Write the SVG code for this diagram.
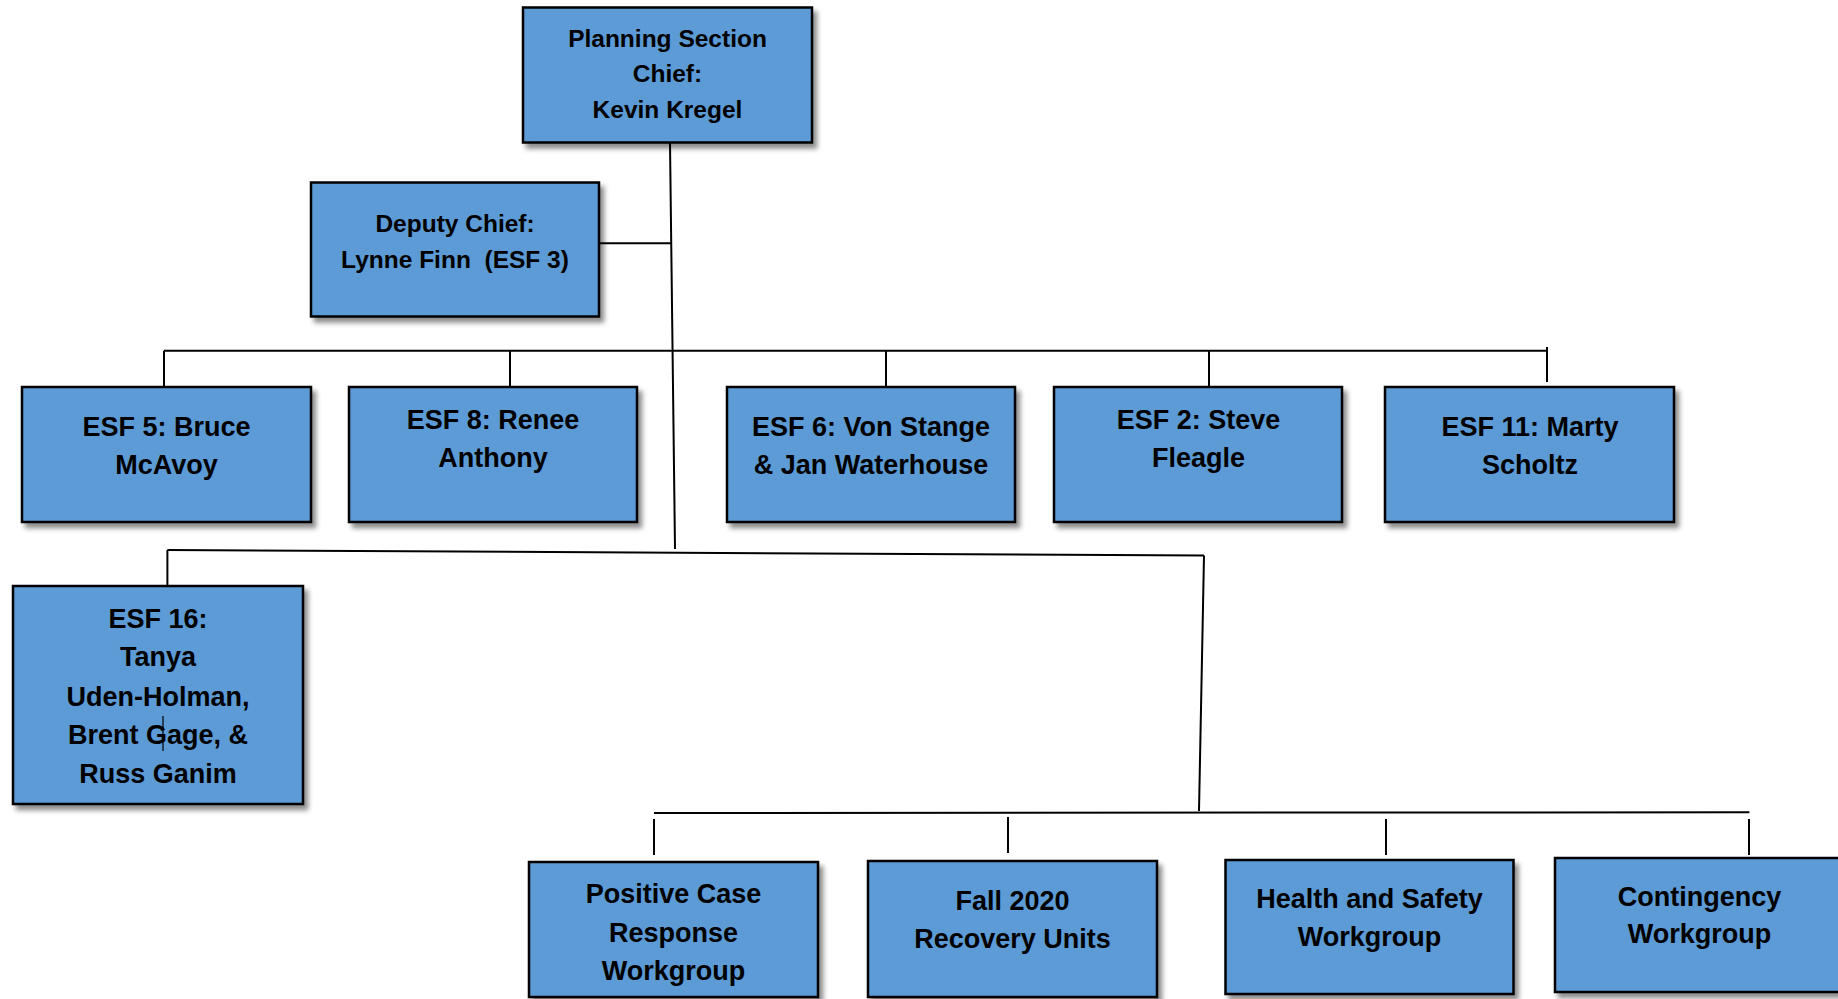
<svg xmlns="http://www.w3.org/2000/svg" width="1838" height="999" viewBox="0 0 1838 999">
<defs>
<filter id="sh" x="-10%" y="-10%" width="130%" height="130%">
<feDropShadow dx="4" dy="5" stdDeviation="2.5" flood-color="#000" flood-opacity="0.45"/>
</filter>
</defs>
<style>
.box{fill:#5B9BD5;stroke:#000;stroke-width:2.5;filter:url(#sh)}
.t{font-family:"Liberation Sans",Arial,sans-serif;font-weight:bold;font-size:27px;fill:#000;text-anchor:middle}
.s{font-size:24.5px}
.c line{stroke:#000;stroke-width:2}
</style>
<rect width="1838" height="999" fill="#fff"/>
<g class="c" id="connectors">
<line x1="670" y1="143" x2="675" y2="549"/>
<line x1="599" y1="243.3" x2="671.5" y2="243.3"/>
<line x1="164" y1="350.7" x2="1547" y2="350.7"/>
<line x1="164" y1="350.7" x2="164" y2="387"/>
<line x1="510" y1="350.7" x2="510" y2="387"/>
<line x1="886" y1="350.7" x2="886" y2="387"/>
<line x1="1209" y1="350.7" x2="1209" y2="387"/>
<line x1="1547" y1="347" x2="1547" y2="382"/>
<line x1="167.4" y1="550" x2="1204" y2="555.6"/>
<line x1="167.4" y1="550" x2="167.4" y2="586"/>
<line x1="1204" y1="555.6" x2="1199" y2="811"/>
<line x1="654" y1="813" x2="1749.4" y2="812.3"/>
<line x1="654" y1="819" x2="654" y2="855"/>
<line x1="1008" y1="817" x2="1008" y2="853"/>
<line x1="1386" y1="819" x2="1386" y2="855"/>
<line x1="1749" y1="819" x2="1749" y2="855"/>
</g>
<g id="planning">
<rect class="box" x="523" y="7.5" width="289" height="135"/>
<text class="t s" x="667.5" y="46.7">Planning Section</text>
<text class="t s" x="667.5" y="81.7">Chief:</text>
<text class="t s" x="667.5" y="118.3">Kevin Kregel</text>
</g>
<g id="deputy">
<rect class="box" x="311" y="182.5" width="288" height="134"/>
<text class="t s" x="455" y="231.7">Deputy Chief:</text>
<text class="t s" x="455" y="268.3" style="white-space:pre" xml:space="preserve">Lynne Finn  (ESF 3)</text>
</g>
<g id="esf5">
<rect class="box" x="22" y="387" width="289" height="135"/>
<text class="t" x="166.5" y="436">ESF 5: Bruce</text>
<text class="t" x="166.5" y="474">McAvoy</text>
</g>
<g id="esf8">
<rect class="box" x="349" y="387" width="288" height="135"/>
<text class="t" x="493" y="429">ESF 8: Renee</text>
<text class="t" x="493" y="466.7">Anthony</text>
</g>
<g id="esf6">
<rect class="box" x="727" y="387" width="288" height="135"/>
<text class="t" x="871" y="436">ESF 6: Von Stange</text>
<text class="t" x="871" y="474">&amp; Jan Waterhouse</text>
</g>
<g id="esf2">
<rect class="box" x="1054" y="387" width="288" height="135"/>
<text class="t" x="1198.5" y="429">ESF 2: Steve</text>
<text class="t" x="1198.5" y="466.7">Fleagle</text>
</g>
<g id="esf11">
<rect class="box" x="1385" y="387" width="289" height="135"/>
<text class="t" x="1530" y="436">ESF 11: Marty</text>
<text class="t" x="1530" y="474">Scholtz</text>
</g>
<g id="esf16">
<rect class="box" x="13" y="586" width="290" height="218"/>
<text class="t" x="158" y="628.3">ESF 16:</text>
<text class="t" x="158" y="666">Tanya</text>
<text class="t" x="158" y="705.7">Uden-Holman,</text>
<text class="t" x="158" y="744">Brent Gage, &amp;</text>
<text class="t" x="158" y="782.7">Russ Ganim</text>
<line x1="163" y1="716" x2="163" y2="751" stroke="#000" stroke-width="1.2"/>
</g>
<g id="positive-case">
<rect class="box" x="529" y="862" width="289" height="135"/>
<text class="t" x="673.5" y="903.3">Positive Case</text>
<text class="t" x="673.5" y="942.3">Response</text>
<text class="t" x="673.5" y="980">Workgroup</text>
</g>
<g id="fall2020">
<rect class="box" x="868" y="861" width="289" height="136"/>
<text class="t" x="1012.5" y="910">Fall 2020</text>
<text class="t" x="1012.5" y="948.3">Recovery Units</text>
</g>
<g id="health-safety">
<rect class="box" x="1225.5" y="860" width="288" height="134"/>
<text class="t" x="1369.5" y="908.3">Health and Safety</text>
<text class="t" x="1369.5" y="945.7">Workgroup</text>
</g>
<g id="contingency">
<rect class="box" x="1555" y="858" width="290" height="134"/>
<text class="t" x="1699.5" y="906">Contingency</text>
<text class="t" x="1699.5" y="943.3">Workgroup</text>
</g>
</svg>
